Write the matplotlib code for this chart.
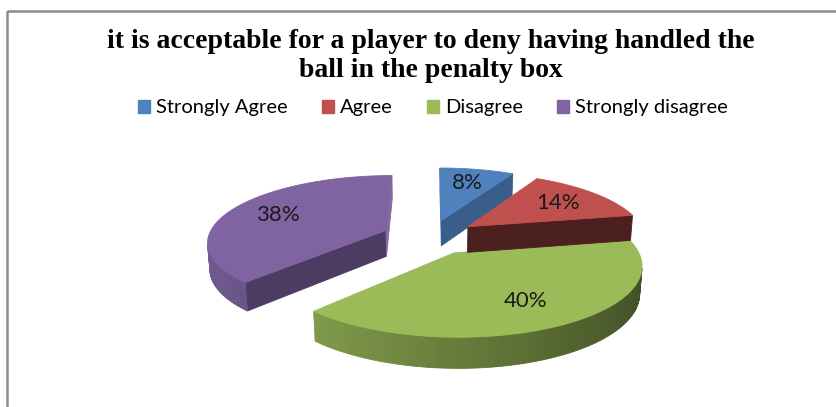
import numpy as np
import matplotlib.pyplot as plt
from matplotlib.patches import Polygon, Patch, Rectangle
from matplotlib.colors import to_rgb

# Survey answers (percent of respondents)
labels = ["Strongly Agree", "Agree", "Disagree", "Strongly disagree"]
shares = [8, 14, 40, 38]
colors = ["#4F81BD", "#C0504D", "#9BBB59", "#8064A2"]
title = "it is acceptable for a player to deny having handled the\nball in the penalty box"

W, H = 837, 407
fig = plt.figure(figsize=(W / 100, H / 100), dpi=100)
ax = fig.add_axes([0, 0, 1, 1])
ax.set_xlim(0, W)
ax.set_ylim(H, 0)
ax.axis("off")

# 3d pie setup: unit disc seen from above with a little perspective
S = 176              # px per unit radius
OX, OY = 430, 263    # screen position of the disc centre (base)
ELEV = np.radians(23)
se, ce = np.sin(ELEV), np.cos(ELEV)
F = 5.9              # camera distance
THICK = 0.16
EXPLODE = 0.27
cam = np.array([0.0, -F * ce, F * se])


def proj(x, y, z):
    xc = x
    yc = y * se + z * ce
    zc = y * ce - z * se
    k = F / (F + zc)
    return OX + S * xc * k, OY - S * yc * k


def visible(normal, point):
    return np.dot(normal, cam - np.asarray(point)) > 0


def shade(c, f):
    return tuple(np.clip(np.array(to_rgb(c)) * f, 0, 1))


def face(pts3d, color, z=2):
    pts = [proj(*p) for p in pts3d]
    ax.add_patch(Polygon(pts, closed=True, facecolor=color, edgecolor=color,
                         linewidth=0.6, zorder=z))


total = sum(shares)
bounds = np.radians(np.concatenate([[0], np.cumsum(shares)]) / total * 360)

# back slices first so the front ones sit on top
draw_order = [3, 2, 0, 1]
for i in draw_order:
    t1, t2 = bounds[i], bounds[i + 1]
    m = (t1 + t2) / 2
    ox, oy = EXPLODE * np.sin(m), EXPLODE * np.cos(m)
    c = colors[i]

    # radial cut faces
    for a, n in [(t1, np.array([-np.cos(t1), np.sin(t1), 0])),
                 (t2, np.array([np.cos(t2), -np.sin(t2), 0]))]:
        mid = (ox + 0.5 * np.sin(a), oy + 0.5 * np.cos(a), THICK / 2)
        if visible(n, mid):
            face([(ox, oy, 0), (ox + np.sin(a), oy + np.cos(a), 0),
                  (ox + np.sin(a), oy + np.cos(a), THICK), (ox, oy, THICK)],
                 shade(c, 0.99 + 0.04 * n[0] + 0.61 * n[1]))

    # curved outer wall, shaded strip by strip
    ts = np.linspace(t1, t2, 120)
    for a, b in zip(ts[:-1], ts[1:]):
        tm = (a + b) / 2
        n = np.array([np.sin(tm), np.cos(tm), 0])
        if visible(n, (ox + n[0], oy + n[1], THICK / 2)):
            face([(ox + np.sin(a), oy + np.cos(a), 0), (ox + np.sin(b), oy + np.cos(b), 0),
                  (ox + np.sin(b), oy + np.cos(b), THICK), (ox + np.sin(a), oy + np.cos(a), THICK)],
                 shade(c, 0.66 - 0.24 * np.sin(tm)))

    # top face
    top = [(ox, oy, THICK)] + [(ox + np.sin(t), oy + np.cos(t), THICK) for t in ts]
    face(top, c)

    lx, ly = proj(ox + 0.70 * np.sin(m), oy + 0.70 * np.cos(m), THICK)
    ax.text(lx, ly, f"{shares[i]}%", ha="center", va="center", fontsize=16,
            family="Lato", color="#1a1a1a", zorder=5)

# chart border (runs off the right and bottom)
ax.add_patch(Rectangle((7, 11), 1000, 600, fill=False, edgecolor="#8C8C8C",
                       linewidth=1.8, zorder=1))

ax.text(431, 29, title, ha="center", va="top", fontsize=20, fontweight="bold",
        family="Liberation Serif", linespacing=1.22, color="black")

handles = [Patch(facecolor=c, edgecolor=c) for c in colors]
fig.legend(handles, labels, loc="center", bbox_to_anchor=(433 / W, 1 - 108 / H),
           ncol=4, frameon=False, handlelength=0.6, handleheight=0.6,
           handletextpad=0.3, columnspacing=1.7,
           prop={"family": "Lato", "size": 14.5})

fig.savefig("out.png", dpi=100)
